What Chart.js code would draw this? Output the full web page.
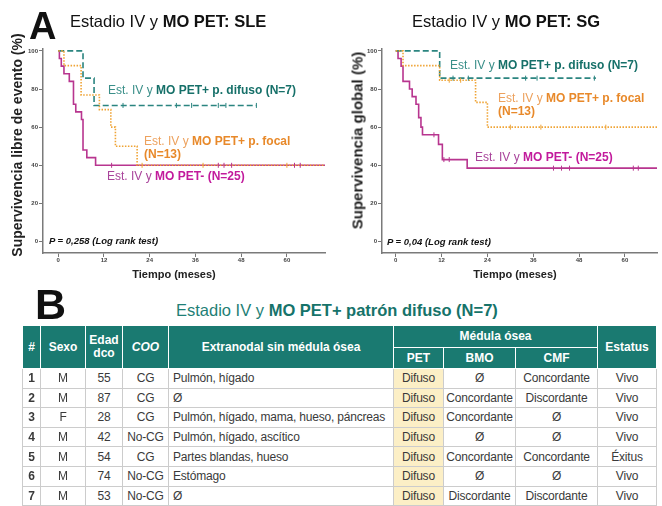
<!DOCTYPE html>
<html><head><meta charset="utf-8">
<script src="https://cdn.jsdelivr.net/npm/chart.js@4.4.1/dist/chart.umd.min.js"></script>
<style>
html,body{margin:0;padding:0;background:#fff;}
body{width:662px;height:506px;position:relative;overflow:hidden;font-family:"Liberation Sans",Arial,sans-serif;color:#222;}
.abs{position:absolute;white-space:nowrap;}
canvas{position:absolute;}
.lbl{font-size:12px;line-height:13px;}
.teal{color:#3a8f89;} .teal b{color:#167069;}
.orng{color:#eda25e;} .orng b{color:#e8892a;}
.mag{color:#a9449b;} .mag b{color:#c21a9c;}
.pv{font-size:9.5px;line-height:11px;font-weight:bold;font-style:italic;color:#111;}
.ytitle{font-weight:bold;text-align:center;transform:rotate(-90deg);transform-origin:50% 50%;color:#222;}
.xtitle{font-weight:bold;font-size:11px;line-height:13px;text-align:center;color:#222;}
table{position:absolute;left:22px;top:325px;width:634px;border-collapse:collapse;table-layout:fixed;}
th{background:#1a7a71;color:#fff;font-weight:bold;font-size:12px;border:1px solid #fff;padding:0;line-height:13px;white-space:nowrap;}
td{font-size:12px;color:#3a3a3a;border:1px solid #cccccc;height:18.6px;padding:0;text-align:center;line-height:14px;white-space:nowrap;overflow:hidden;letter-spacing:-0.2px;}
td.l{text-align:left;padding-left:4px;}
td.n{font-weight:bold;}
td.pet{background:#fcefc6;}
</style></head><body>
<canvas id="sle" width="330" height="285" style="left:0;top:0"></canvas>
<canvas id="sg" width="332" height="285" style="left:330px;top:0"></canvas>

<div class="abs" style="left:29px;top:7px;font-weight:bold;font-size:38px;line-height:38px;color:#111;">A</div>
<div class="abs" style="left:70px;top:11px;font-size:16.5px;line-height:20px;color:#111;">Estadio IV y <b>MO PET: SLE</b></div>
<div class="abs" style="left:412px;top:11px;font-size:16.5px;line-height:20px;color:#111;">Estadio IV y <b>MO PET: SG</b></div>

<div class="abs ytitle" style="left:-113px;top:137px;width:260px;font-size:14px;line-height:16px;">Supervivencia libre de evento (%)</div>
<div class="abs ytitle" style="left:227px;top:132px;width:260px;font-size:15px;line-height:17px;">Supervivencia global (%)</div>
<div class="abs xtitle" style="left:124px;top:268px;width:100px;">Tiempo (meses)</div>
<div class="abs xtitle" style="left:465px;top:268px;width:100px;">Tiempo (meses)</div>

<div class="abs lbl teal" style="left:108px;top:84px;">Est. IV y <b>MO PET+ p. difuso (N=7)</b></div>
<div class="abs lbl orng" style="left:144px;top:135px;">Est. IV y <b>MO PET+ p. focal</b><br><b>(N=13)</b></div>
<div class="abs lbl mag" style="left:107px;top:170px;">Est. IV y <b>MO PET- (N=25)</b></div>
<div class="abs pv" style="left:49px;top:235px;">P = 0,258 (Log rank test)</div>

<div class="abs lbl teal" style="left:450px;top:59px;">Est. IV y <b>MO PET+ p. difuso (N=7)</b></div>
<div class="abs lbl orng" style="left:498px;top:92px;">Est. IV y <b>MO PET+ p. focal</b><br><b>(N=13)</b></div>
<div class="abs lbl mag" style="left:475px;top:151px;">Est. IV y <b>MO PET- (N=25)</b></div>
<div class="abs pv" style="left:387px;top:236px;">P = 0,04 (Log rank test)</div>

<div class="abs" style="left:35px;top:283px;font-weight:bold;font-size:43px;line-height:43px;color:#111;z-index:2;">B</div>
<div class="abs" style="left:176px;top:300px;font-size:16.5px;line-height:20px;color:#1f7f76;">Estadio IV y <b style="color:#16736a;">MO PET+ patrón difuso (N=7)</b></div>

<table id="tbl">
<colgroup><col style="width:18px"><col style="width:45px"><col style="width:37px"><col style="width:46px"><col style="width:225px"><col style="width:50px"><col style="width:72px"><col style="width:82px"><col style="width:59px"></colgroup>
<thead>
<tr style="height:22px"><th rowspan="2">#</th><th rowspan="2">Sexo</th><th rowspan="2">Edad<br>dco</th><th rowspan="2"><i>COO</i></th><th rowspan="2">Extranodal sin médula ósea</th><th colspan="3">Médula ósea</th><th rowspan="2">Estatus</th></tr>
<tr style="height:21px"><th>PET</th><th>BMO</th><th>CMF</th></tr>
</thead>
<tbody id="tb"></tbody>
</table>

<script>
// ---- Kaplan-Meier data (time in months, survival in %) ----
const xTicks = [0, 12, 24, 36, 48, 60];
const yTicks = [0, 20, 40, 60, 80, 100];

// SLE (event-free survival)
const sleDifusoT = [0, 6.5, 9.4, 52];
const sleDifusoS = [100, 85.7, 71.4, 71.4];
const sleDifusoC = [17, 31, 35, 42, 44, 52];
const sleFocalT = [0, 1.5, 6, 10.8, 13.8, 15, 20.7, 70];
const sleFocalS = [100, 92.3, 76.9, 69.2, 60, 50, 40, 40];
const sleFocalC = [22, 38, 60];
const sleNegT = [0, 0.3, 0.8, 1.5, 2.9, 4.0, 4.6, 6.1, 6.5, 7.5, 9.8, 70];
const sleNegS = [100, 96, 92, 88, 84, 72, 68, 64, 48, 44, 40, 40];
const sleNegC = [14, 42, 43.5, 45.5, 62, 63.5];

// SG (overall survival)
const sgDifusoT = [0, 11.5, 52.4];
const sgDifusoS = [100, 85.7, 85.7];
const sgDifusoC = [15, 19, 34, 37, 52];
const sgFocalT = [0, 1.9, 11.5, 20.9, 24, 68.4];
const sgFocalS = [100, 92.3, 84.6, 73, 60, 60];
const sgFocalC = [14, 17, 30, 38, 55];
const sgNegT = [0, 0.6, 1.4, 1.9, 3.6, 4.3, 5.3, 6.0, 6.6, 7.0, 11.2, 12.2, 18.7, 68.4];
const sgNegS = [100, 96, 92, 84, 80, 76, 72, 65, 60, 56, 51, 43, 38.5, 38.5];
const sgNegC = [10, 12.6, 14, 41.3, 43.4, 45.5, 62.2, 63.5];

// ---- Table data ----
const tNum = [1, 2, 3, 4, 5, 6, 7];
const tSexo = ['M', 'M', 'F', 'M', 'M', 'M', 'M'];
const tEdad = [55, 87, 28, 42, 54, 74, 53];
const tCOO = ['CG', 'CG', 'CG', 'No-CG', 'CG', 'No-CG', 'No-CG'];
const tExtra = ['Pulmón, hígado', 'Ø', 'Pulmón, hígado, mama, hueso, páncreas', 'Pulmón, hígado, ascítico', 'Partes blandas, hueso', 'Estómago', 'Ø'];
const tPET = ['Difuso', 'Difuso', 'Difuso', 'Difuso', 'Difuso', 'Difuso', 'Difuso'];
const tBMO = ['Ø', 'Concordante', 'Concordante', 'Ø', 'Concordante', 'Ø', 'Discordante'];
const tCMF = ['Concordante', 'Discordante', 'Ø', 'Ø', 'Concordante', 'Ø', 'Discordante'];
const tEstatus = ['Vivo', 'Vivo', 'Vivo', 'Vivo', 'Éxitus', 'Vivo', 'Vivo'];

const tb = document.getElementById('tb');
tNum.forEach((n, i) => {
  const tr = document.createElement('tr');
  const cells = [[n, 'n'], [tSexo[i], ''], [tEdad[i], ''], [tCOO[i], ''], [tExtra[i], 'l'], [tPET[i], 'pet'], [tBMO[i], ''], [tCMF[i], ''], [tEstatus[i], '']];
  cells.forEach(([v, c]) => { const td = document.createElement('td'); td.textContent = v; if (c) td.className = c; tr.appendChild(td); });
  tb.appendChild(tr);
});

const COL = { teal: '#2b8580', orange: '#efa435', mag: '#b8358f' };

function km(T, S) { return T.map((t, i) => ({ x: t, y: S[i] })); }
function cens(C, T, S) {
  return C.map(c => { let v = S[0]; for (let i = 0; i < T.length; i++) { if (T[i] <= c) v = S[i]; } return { x: c, y: v }; });
}
function lineDs(T, S, color, dash) {
  return { type: 'line', data: km(T, S), stepped: 'before', borderColor: color, borderWidth: 1.6, borderDash: dash, pointRadius: 0, fill: false };
}
function censDs(C, T, S, color) {
  return { type: 'scatter', data: cens(C, T, S), pointStyle: 'line', rotation: 90, pointRadius: 2.5, borderColor: color, borderWidth: 1, showLine: false };
}

function makeChart(id, sets, xmin, xmax, yW) {
  new Chart(document.getElementById(id), {
    type: 'line',
    data: { datasets: sets },
    options: {
      responsive: false, animation: false, devicePixelRatio: 1,
      layout: { padding: { top: 49, right: 0, left: 0, bottom: 0 } },
      plugins: { legend: { display: false }, tooltip: { enabled: false } },
      scales: {
        x: {
          type: 'linear', min: xmin, max: xmax,
          afterBuildTicks: a => { a.ticks = xTicks.map(v => ({ value: v })); },
          afterFit: s => { s.height = 32; },
          grid: { drawOnChartArea: false, drawTicks: true, tickLength: 4, color: '#777' },
          border: { color: '#7a7a7a', width: 1.5 },
          ticks: { font: { size: 6, weight: 'bold', family: 'Liberation Sans' }, color: '#444', padding: 0, maxRotation: 0, autoSkip: false }
        },
        y: {
          type: 'linear', min: -6, max: 101,
          afterBuildTicks: a => { a.ticks = yTicks.map(v => ({ value: v })); },
          afterFit: s => { s.width = yW; },
          grid: { drawOnChartArea: false, drawTicks: true, tickLength: 4, color: '#777' },
          border: { color: '#7a7a7a', width: 1.5 },
          ticks: { font: { size: 6, weight: 'bold', family: 'Liberation Sans' }, color: '#444', padding: 1, autoSkip: false }
        }
      }
    }
  });
}

makeChart('sle', [
  censDs(sleDifusoC, sleDifusoT, sleDifusoS, COL.teal),
  censDs(sleFocalC, sleFocalT, sleFocalS, COL.orange),
  censDs(sleNegC, sleNegT, sleNegS, COL.mag),
  lineDs(sleFocalT, sleFocalS, COL.orange, [1.5, 1.5]),
  lineDs(sleDifusoT, sleDifusoS, COL.teal, [6, 3]),
  lineDs(sleNegT, sleNegS, COL.mag, [])
], -4, 70, 43);

makeChart('sg', [
  censDs(sgDifusoC, sgDifusoT, sgDifusoS, COL.teal),
  censDs(sgFocalC, sgFocalT, sgFocalS, COL.orange),
  censDs(sgNegC, sgNegT, sgNegS, COL.mag),
  lineDs(sgFocalT, sgFocalS, COL.orange, [1.5, 1.5]),
  lineDs(sgDifusoT, sgDifusoS, COL.teal, [6, 3]),
  lineDs(sgNegT, sgNegS, COL.mag, [])
], -3.6, 68.4, 52);
</script>
</body></html>
